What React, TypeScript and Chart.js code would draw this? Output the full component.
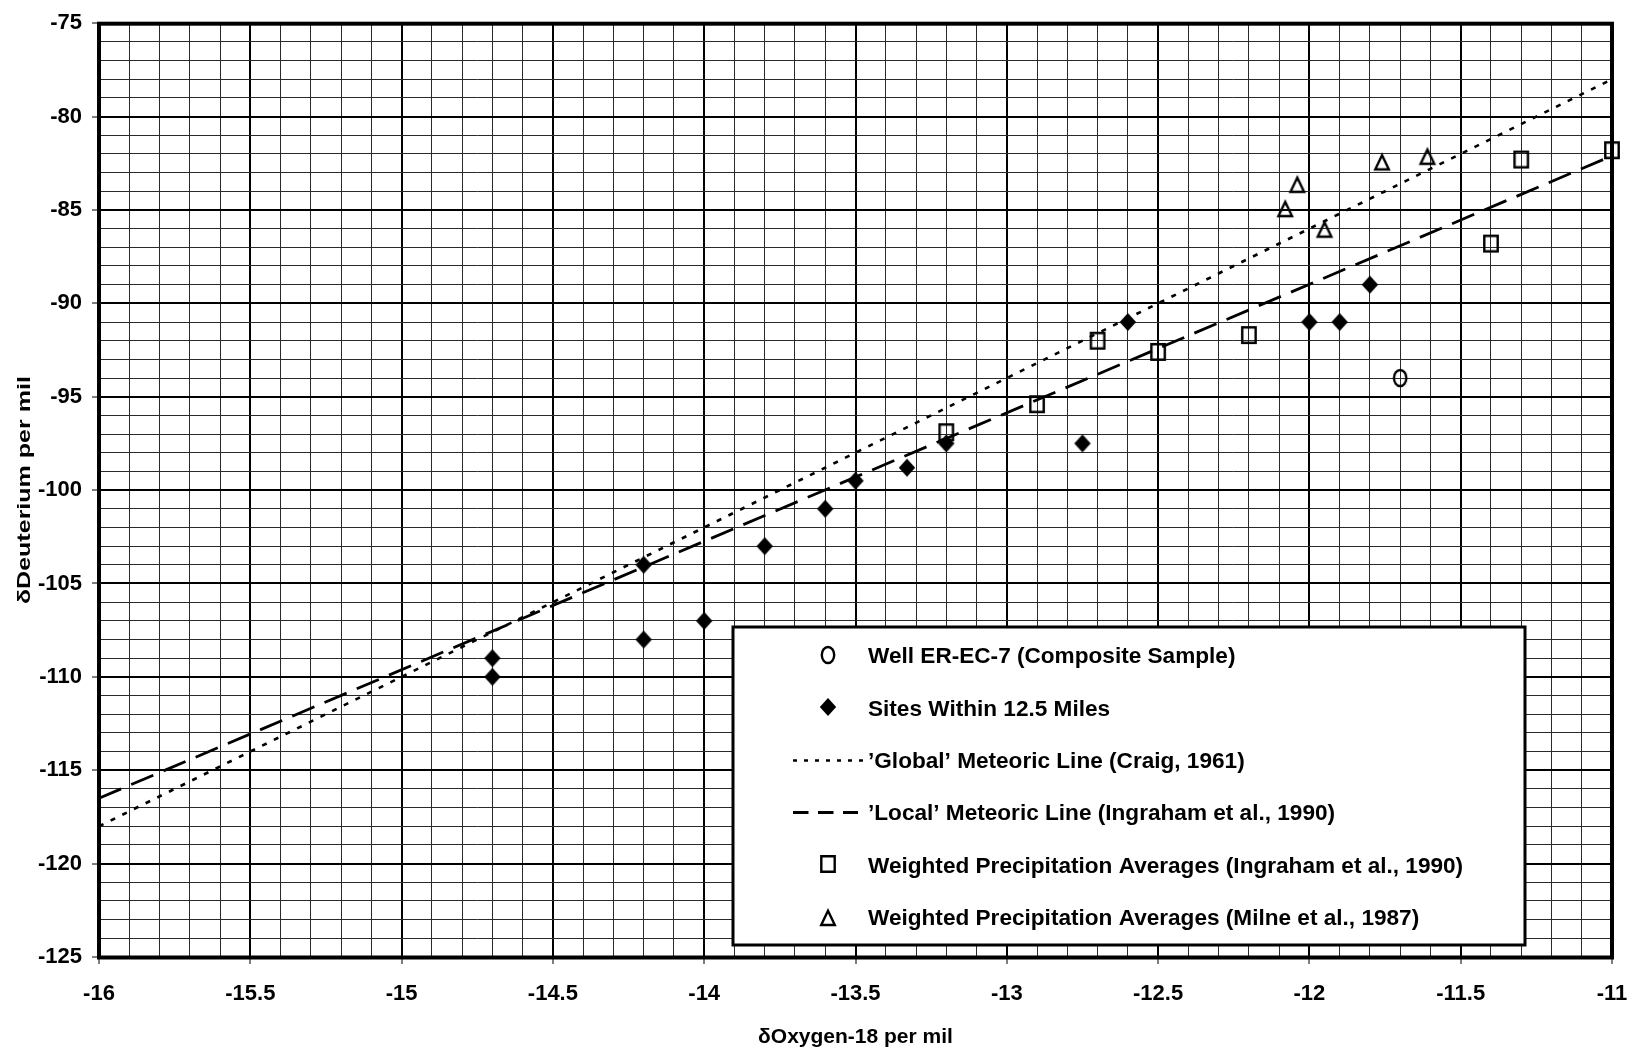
import React, { useEffect, useRef } from 'react';
import { Chart, registerables } from 'chart.js';

Chart.register(...registerables);

// ---- Data ----
const wellX = [-11.7];
const wellY = [-94];

const sitesX = [-14.7, -14.7, -14.2, -14.2, -14.0, -13.8, -13.6, -13.5, -13.33, -13.2, -12.75, -12.6, -12.0, -11.9, -11.8];
const sitesY = [-109, -110, -104, -108, -107, -103, -101, -99.5, -98.8, -97.5, -97.5, -91, -91, -91, -89];

const globalLineX = [-16, -11];
const globalLineY = [-118, -78];

const localLineX = [-16, -11];
const localLineY = [-116.5, -82.1];

const ingrahamX = [-13.2, -12.9, -12.7, -12.5, -12.2, -11.4, -11.3, -11.0];
const ingrahamY = [-96.9, -95.4, -92.0, -92.6, -91.7, -86.8, -82.3, -81.8];

const milneX = [-12.08, -12.04, -11.95, -11.76, -11.61];
const milneY = [-84.9, -83.6, -86.0, -82.4, -82.1];

const xMajorTicks = [-16, -15.5, -15, -14.5, -14, -13.5, -13, -12.5, -12, -11.5, -11];
const xTickLabels = ['-16', '-15.5', '-15', '-14.5', '-14', '-13.5', '-13', '-12.5', '-12', '-11.5', '-11'];
const yMajorTicks = [-75, -80, -85, -90, -95, -100, -105, -110, -115, -120, -125];
const yTickLabels = ['-75', '-80', '-85', '-90', '-95', '-100', '-105', '-110', '-115', '-120', '-125'];

const legendLabels = [
  'Well ER-EC-7 (Composite Sample)',
  'Sites Within 12.5 Miles',
  '\u2019Global\u2019 Meteoric Line (Craig, 1961)',
  '\u2019Local\u2019 Meteoric Line (Ingraham et al., 1990)',
  'Weighted Precipitation Averages (Ingraham et al., 1990)',
  'Weighted Precipitation Averages (Milne et al., 1987)',
];

const xTitle = '\u03B4Oxygen-18 per mil';
const yTitle = '\u03B4Deuterium per mil';

// ---- helpers ----
const FONT = '"Liberation Sans", Arial, Helvetica, sans-serif';

const zip = (xs: number[], ys: number[]) => xs.map((x, i) => ({ x, y: ys[i] }));

const findLabel = (v: number, majors: number[], labels: string[]) => {
  const i = majors.findIndex((m) => Math.abs(m - v) < 1e-6);
  return i >= 0 ? labels[i] : '';
};
const isMajor = (v: number | undefined, majors: number[]) =>
  v !== undefined && majors.some((m) => Math.abs(m - v) < 1e-6);

function makeMarker(kind: string): HTMLCanvasElement {
  const c = document.createElement('canvas');
  c.width = 26;
  c.height = 26;
  const ctx = c.getContext('2d') as CanvasRenderingContext2D;
  ctx.translate(13, 13);
  ctx.lineWidth = 2.4;
  ctx.strokeStyle = '#000';
  ctx.fillStyle = '#000';
  ctx.lineJoin = 'miter';
  ctx.beginPath();
  if (kind === 'circle') {
    ctx.ellipse(0, 0, 6.2, 8, 0, 0, Math.PI * 2);
    ctx.stroke();
  } else if (kind === 'square') {
    ctx.rect(-6.7, -7.7, 13.4, 15.4);
    ctx.stroke();
  } else if (kind === 'triangle') {
    ctx.moveTo(0, -6.3);
    ctx.lineTo(6.8, 8);
    ctx.lineTo(-6.8, 8);
    ctx.closePath();
    ctx.stroke();
  } else if (kind === 'diamond') {
    ctx.moveTo(0, -9);
    ctx.lineTo(8.2, 0);
    ctx.lineTo(0, 9);
    ctx.lineTo(-8.2, 0);
    ctx.closePath();
    ctx.fill();
  }
  return c;
}

export default function App() {
  const ref = useRef<HTMLCanvasElement | null>(null);

  useEffect(() => {
    const canvas = ref.current;
    if (!canvas) return;

    const mk = {
      circle: makeMarker('circle'),
      diamond: makeMarker('diamond'),
      square: makeMarker('square'),
      triangle: makeMarker('triangle'),
    };

    const globalDash = [5, 8];
    const localDash = [24, 11];

    const framePlugin = {
      id: 'frame',
      beforeDatasetsDraw(chart: any) {
        const { ctx, chartArea: a } = chart;
        ctx.save();
        ctx.lineWidth = 4;
        ctx.strokeStyle = '#000';
        ctx.strokeRect(a.left, a.top + 0.5, a.right - a.left, a.bottom - a.top);
        ctx.restore();
      },
    };

    const yTitlePlugin = {
      id: 'yTitle',
      afterDraw(chart: any) {
        const { ctx, chartArea: a } = chart;
        ctx.save();
        ctx.font = `bold 18px ${FONT}`;
        ctx.fillStyle = '#000';
        ctx.textAlign = 'center';
        ctx.textBaseline = 'middle';
        const w = ctx.measureText(yTitle).width;
        const target = 228;
        ctx.translate(25, (a.top + a.bottom) / 2);
        ctx.rotate(-Math.PI / 2);
        ctx.scale(target / w, 1);
        ctx.fillText(yTitle, 0, 0);
        ctx.restore();
      },
    };

    const legendPlugin = {
      id: 'customLegend',
      afterDatasetsDraw(chart: any) {
        const { ctx } = chart;
        const bx = 733;
        const by = 627;
        const bw = 792;
        const bh = 318;
        ctx.save();
        ctx.fillStyle = '#fff';
        ctx.fillRect(bx, by, bw, bh);
        ctx.lineWidth = 3;
        ctx.strokeStyle = '#000';
        ctx.strokeRect(bx, by, bw, bh);

        const rowY0 = by + 28;
        const rowStep = 52.3;
        const symX = bx + 94.5;
        const textX = bx + 135;
        const kinds = ['circle', 'diamond', 'gline', 'lline', 'square', 'triangle'];
        ctx.font = `bold 22.6px ${FONT}`;
        ctx.fillStyle = '#000';
        ctx.textBaseline = 'alphabetic';
        ctx.textAlign = 'left';
        kinds.forEach((k, i) => {
          const cy = rowY0 + i * rowStep;
          if (k === 'gline' || k === 'lline') {
            ctx.save();
            ctx.strokeStyle = '#000';
            ctx.lineWidth = k === 'gline' ? 2.4 : 2.8;
            ctx.setLineDash(k === 'gline' ? [4, 7] : [15.5, 9.5]);
            ctx.beginPath();
            ctx.moveTo(bx + 60, Math.round(cy) + 0.5);
            ctx.lineTo(bx + (k === 'gline' ? 131 : 125), Math.round(cy) + 0.5);
            ctx.stroke();
            ctx.restore();
          } else {
            const img = (mk as any)[k] as HTMLCanvasElement;
            ctx.drawImage(img, Math.round(symX - img.width / 2), Math.round(cy - img.height / 2));
          }
          ctx.fillText(legendLabels[i], textX, cy + 8.3);
        });
        ctx.restore();
      },
    };

    const tickFont = { family: FONT, size: 22, weight: 'bold' as const };

    const chart = new Chart(canvas, {
      type: 'scatter',
      data: {
        datasets: [
          {
            label: legendLabels[0],
            data: zip(wellX, wellY),
            pointStyle: mk.circle as any,
            pointRadius: 8,
            showLine: false,
            clip: false as any,
          },
          {
            label: legendLabels[1],
            data: zip(sitesX, sitesY),
            pointStyle: mk.diamond as any,
            pointRadius: 8,
            showLine: false,
            clip: false as any,
          },
          {
            label: legendLabels[4],
            data: zip(ingrahamX, ingrahamY),
            pointStyle: mk.square as any,
            pointRadius: 8,
            showLine: false,
            clip: false as any,
          },
          {
            label: legendLabels[5],
            data: zip(milneX, milneY),
            pointStyle: mk.triangle as any,
            pointRadius: 8,
            showLine: false,
            clip: false as any,
          },
          {
            label: legendLabels[2],
            data: zip(globalLineX, globalLineY),
            showLine: true,
            pointRadius: 0,
            borderColor: '#000',
            borderWidth: 2.6,
            borderDash: globalDash,
            fill: false,
          },
          {
            label: legendLabels[3],
            data: zip(localLineX, localLineY),
            showLine: true,
            pointRadius: 0,
            borderColor: '#000',
            borderWidth: 2.8,
            borderDash: localDash,
            fill: false,
          },
        ],
      },
      options: {
        animation: false,
        responsive: false,
        maintainAspectRatio: false,
        devicePixelRatio: 1,
        layout: { padding: { left: 0, right: 21, top: 20, bottom: 0 } },
        plugins: {
          legend: { display: false },
          tooltip: { enabled: false },
        },
        events: [],
        scales: {
          x: {
            type: 'linear',
            min: -16,
            max: -11,
            afterFit: (s: any) => {
              s.height = 100;
              s.paddingLeft = 0;
              s.paddingRight = 0;
            },
            border: { display: false },
            grid: {
              color: (c: any) => (isMajor(c.tick?.value, xMajorTicks) ? '#000' : '#2a2a2a'),
              lineWidth: (c: any) => (isMajor(c.tick?.value, xMajorTicks) ? 2 : 1),
              tickColor: (c: any) => (isMajor(c.tick?.value, xMajorTicks) ? '#000' : 'rgba(0,0,0,0)'),
              tickLength: 7,
              tickWidth: 1,
              drawTicks: true,
            },
            ticks: {
              stepSize: 0.1,
              maxTicksLimit: 1000,
              autoSkip: false,
              maxRotation: 0,
              minRotation: 0,
              padding: 17,
              color: '#000',
              font: tickFont,
              callback: (v: any) => findLabel(Number(v), xMajorTicks, xTickLabels),
            },
            title: {
              display: true,
              text: xTitle,
              color: '#000',
              font: { family: FONT, size: 21, weight: 'bold' },
              padding: { top: 0, bottom: 7 },
            },
          },
          y: {
            type: 'linear',
            min: -125,
            max: -75,
            afterFit: (s: any) => {
              s.width = 99;
            },
            border: { display: false },
            grid: {
              color: (c: any) => (isMajor(c.tick?.value, yMajorTicks) ? '#000' : '#2a2a2a'),
              lineWidth: (c: any) => (isMajor(c.tick?.value, yMajorTicks) ? 2 : 1),
              tickColor: (c: any) => (isMajor(c.tick?.value, yMajorTicks) ? '#000' : 'rgba(0,0,0,0)'),
              tickLength: 7,
              tickWidth: 1,
              drawTicks: true,
            },
            ticks: {
              stepSize: 1,
              maxTicksLimit: 1000,
              autoSkip: false,
              padding: 10,
              color: '#000',
              font: tickFont,
              callback: (v: any) => findLabel(Number(v), yMajorTicks, yTickLabels),
            },
            title: {
              display: false,
              text: yTitle,
            },
          },
        },
      },
      plugins: [framePlugin, legendPlugin, yTitlePlugin],
    } as any);

    return () => {
      chart.destroy();
    };
  }, []);

  return (
    <div style={{ position: 'absolute', left: 0, top: 0, width: 1633, height: 1057, background: '#fff' }}>
      <canvas ref={ref} width={1633} height={1057} style={{ display: 'block', width: 1633, height: 1057 }} />
    </div>
  );
}
